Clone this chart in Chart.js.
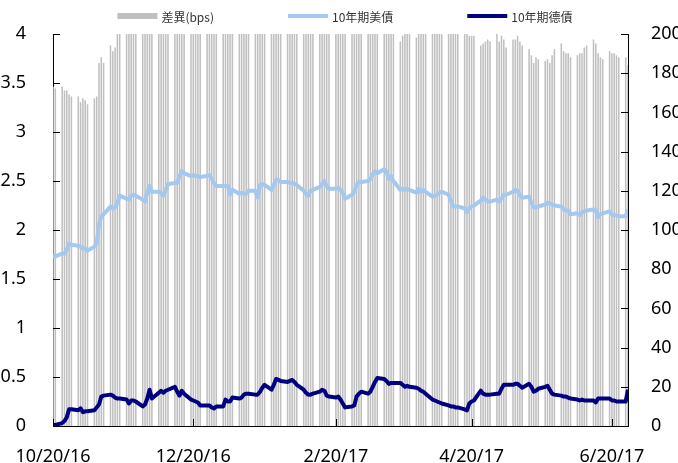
<!DOCTYPE html>
<html>
<head>
<meta charset="utf-8">
<script src="https://cdn.jsdelivr.net/npm/chart.js@4.4.1/dist/chart.umd.min.js"></script>
<style>
  html, body { margin: 0; padding: 0; background: #fff; }
</style>
</head>
<body>
<canvas id="grafica" width="678" height="463"></canvas>
<script>
// rango de fechas (solo días hábiles)
const startDate = '2016-10-20';
const endDate = '2017-06-27';
const xTickLabels = ['10/20/16', '12/20/16', '2/20/17', '4/20/17', '6/20/17'];
const seriesNames = ['差異(bps)', '10年期美債', '10年期德債'];

// 10年期美債 (%), una fila por semana
const usYield = [
    1.74, 1.73,
    1.76, 1.76, 1.80, 1.86, 1.85,
    1.84, 1.83, 1.81, 1.81, 1.79,
    1.83, 1.87, 2.06, 2.14, 2.16,
    2.24, 2.22, 2.23, 2.28, 2.35,
    2.32, 2.31, 2.35, 2.36, 2.35,
    2.31, 2.29, 2.38, 2.45, 2.39,
    2.39, 2.38, 2.35, 2.41, 2.47,
    2.48, 2.48, 2.55, 2.60, 2.58,
    2.55, 2.56, 2.55, 2.55, 2.54,
    2.55, 2.56, 2.52, 2.48, 2.45,
    2.45, 2.45, 2.45, 2.36, 2.41,
    2.37, 2.38, 2.37, 2.37, 2.40,
    2.40, 2.33, 2.46, 2.47, 2.46,
    2.41, 2.46, 2.51, 2.51, 2.49,
    2.49, 2.48, 2.48, 2.47, 2.46,
    2.40, 2.37, 2.35, 2.40, 2.41,
    2.44, 2.47, 2.50, 2.45, 2.42,
    2.42, 2.43, 2.41, 2.38, 2.32,
    2.36, 2.39, 2.46, 2.49, 2.49,
    2.50, 2.52, 2.57, 2.60, 2.58,
    2.62, 2.60, 2.52, 2.55, 2.50,
    2.41, 2.42, 2.41, 2.42, 2.41,
    2.38, 2.42, 2.39, 2.41, 2.39,
    2.34, 2.35, 2.36, 2.38, 2.39,
    2.36, 2.30, 2.24, 2.24, 2.24,
    2.22, 2.18, 2.22, 2.24, 2.25,
    2.30, 2.33, 2.31, 2.29, 2.29,
    2.31, 2.29, 2.32, 2.36, 2.36,
    2.39, 2.41, 2.40, 2.35, 2.33,
    2.34, 2.28, 2.23, 2.23, 2.24,
    2.26, 2.28, 2.27, 2.26, 2.25,
    2.24, 2.21, 2.20, 2.20, 2.16,
    2.17, 2.15, 2.18, 2.19, 2.20,
    2.21, 2.20, 2.13, 2.16, 2.17,
    2.19, 2.16, 2.15, 2.15, 2.14,
    2.14, 2.21
];

// 10年期德債 (%)
const deYield = [
    0.01, 0.01,
    0.03, 0.05, 0.09, 0.17, 0.17,
    0.16, 0.18, 0.14, 0.15, 0.15,
    0.16, 0.19, 0.22, 0.30, 0.31,
    0.32, 0.31, 0.29, 0.28, 0.28,
    0.27, 0.23, 0.26, 0.26, 0.25,
    0.20, 0.22, 0.28, 0.37, 0.28,
    0.34, 0.36, 0.34, 0.36, 0.37,
    0.40, 0.35, 0.31, 0.36, 0.33,
    0.27, 0.26, 0.25, 0.24, 0.21,
    0.21, 0.21, 0.19, 0.18, 0.20,
    0.20, 0.27, 0.25, 0.25, 0.29,
    0.28, 0.29, 0.32, 0.33, 0.33,
    0.32, 0.32, 0.35, 0.39, 0.42,
    0.37, 0.42, 0.48, 0.47, 0.46,
    0.45, 0.46, 0.47, 0.45, 0.42,
    0.37, 0.34, 0.32, 0.32, 0.33,
    0.35, 0.37, 0.36, 0.31, 0.30,
    0.29, 0.30, 0.27, 0.23, 0.19,
    0.20, 0.21, 0.30, 0.33, 0.35,
    0.33, 0.35, 0.40, 0.45, 0.49,
    0.48, 0.46, 0.43, 0.44, 0.44,
    0.44, 0.42, 0.40, 0.41, 0.40,
    0.39, 0.38, 0.36, 0.35, 0.33,
    0.27, 0.26, 0.25, 0.24, 0.23,
    0.21, 0.20, 0.20, 0.19, 0.19,
    0.17, 0.16, 0.23, 0.25, 0.26,
    0.36, 0.33, 0.32, 0.32, 0.32,
    0.33, 0.33, 0.38, 0.42, 0.42,
    0.42, 0.43, 0.43, 0.41, 0.39,
    0.43, 0.40, 0.35, 0.36, 0.38,
    0.40, 0.41, 0.37, 0.33, 0.32,
    0.31, 0.30, 0.30, 0.29, 0.28,
    0.27, 0.26, 0.27, 0.26, 0.26,
    0.26, 0.24, 0.28, 0.28, 0.28,
    0.28, 0.26, 0.26, 0.25, 0.25,
    0.25, 0.37
];

// 差異 (bps), eje derecho
const spread = [
    173, 172,
    173, 171, 171, 169, 168,
    168, 165, 167, 166, 164,
    167, 168, 185, 188, 185,
    194, 191, 193, 200, 207,
    205, 208, 209, 210, 210,
    211, 207, 210, 208, 211,
    205, 202, 201, 205, 210,
    208, 213, 224, 224, 225,
    228, 230, 230, 231, 233,
    234, 235, 233, 230, 225,
    225, 218, 220, 211, 212,
    209, 209, 205, 204, 207,
    208, 201, 211, 208, 204,
    204, 204, 203, 204, 203,
    204, 202, 201, 202, 204,
    203, 203, 203, 208, 208,
    209, 210, 214, 214, 212,
    213, 213, 214, 215, 213,
    216, 218, 216, 216, 214,
    217, 217, 217, 215, 209,
    214, 214, 209, 211, 206,
    196, 199, 200, 201, 201,
    198, 204, 203, 206, 206,
    207, 209, 211, 214, 216,
    215, 210, 204, 205, 205,
    205, 202, 199, 199, 199,
    194, 195, 196, 197, 196,
    200, 196, 199, 197, 193,
    197, 197, 199, 196, 194,
    192, 189, 185, 188, 187,
    186, 187, 185, 189, 192,
    195, 191, 190, 190, 188,
    189, 190, 190, 193, 194,
    197, 195, 190, 188, 187,
    191, 190, 190, 189, 188,
    188, 184
];

const DAY = 86400000;

function toUTC(s) {
    if (s.includes('/')) {
        const [m, d, y] = s.split('/').map(Number);
        return Date.UTC(2000 + y, m - 1, d);
    }
    const [y, m, d] = s.split('-').map(Number);
    return Date.UTC(y, m - 1, d);
}

// días (desde startDate) de cada día hábil
const t0 = toUTC(startDate);
const days = [];
for (let t = t0; t <= toUTC(endDate); t += DAY) {
    const wd = new Date(t).getUTCDay();
    if (wd !== 0 && wd !== 6) days.push((t - t0) / DAY);
}
const xTickDays = xTickLabels.map(s => (toUTC(s) - t0) / DAY);

const pts = arr => arr.map((v, i) => ({ x: days[i], y: v }));

const tickFont = { family: '"Noto Sans", sans-serif', size: 18 };

// marcas de eje hacia adentro
const innerTicks = {
    id: 'innerTicks',
    afterDraw(chart) {
        const { ctx, chartArea: a, scales } = chart;
        ctx.save();
        ctx.strokeStyle = '#000';
        ctx.lineWidth = 1;
        ctx.beginPath();
        scales.y.ticks.forEach(t => {
            const py = Math.round(scales.y.getPixelForValue(t.value)) + 0.5;
            ctx.moveTo(a.left, py);
            ctx.lineTo(a.left + 7, py);
        });
        scales.y1.ticks.forEach(t => {
            const py = Math.round(scales.y1.getPixelForValue(t.value)) + 0.5;
            ctx.moveTo(a.right - 7, py);
            ctx.lineTo(a.right, py);
        });
        scales.x.ticks.forEach(t => {
            const px = Math.round(scales.x.getPixelForValue(t.value)) + 0.5;
            ctx.moveTo(px, a.bottom);
            ctx.lineTo(px, a.bottom - 7);
        });
        ctx.stroke();
        ctx.restore();
    }
};

// leyenda arriba, con mucho espacio entre elementos
const topLegend = {
    id: 'topLegend',
    afterDraw(chart) {
        const ctx = chart.ctx;
        const items = [2, 0, 1].map(i => chart.data.datasets[i]);
        const sym = 40, gap = 4, between = 74, cy = 16;
        ctx.save();
        ctx.font = '12px "Noto Sans CJK TC", sans-serif';
        ctx.textBaseline = 'middle';
        const widths = items.map(d => sym + gap + ctx.measureText(d.label).width);
        const total = widths.reduce((s, w) => s + w, 0) + between * (items.length - 1);
        let x = 345 - total / 2;
        items.forEach((d, i) => {
            if (d.type === 'bar') {
                ctx.fillStyle = d.backgroundColor;
                ctx.fillRect(x, cy - 3, sym, 6);
            } else {
                ctx.strokeStyle = d.borderColor;
                ctx.lineWidth = d.borderWidth;
                ctx.beginPath();
                ctx.moveTo(x, cy);
                ctx.lineTo(x + sym, cy);
                ctx.stroke();
            }
            ctx.fillStyle = '#333';
            ctx.fillText(d.label, x + sym + gap, cy + 1);
            x += widths[i] + between;
        });
        ctx.restore();
    }
};

const ctx = document.getElementById('grafica').getContext('2d');
const chart = new Chart(ctx, {
    type: 'bar',
    data: {
        datasets: [
            {
                type: 'line',
                label: seriesNames[1],
                data: pts(usYield),
                yAxisID: 'y',
                borderColor: '#a4c8ee',
                borderWidth: 4,
                borderJoinStyle: 'round',
                pointRadius: 0,
                tension: 0,
                order: 2
            },
            {
                type: 'line',
                label: seriesNames[2],
                data: pts(deYield),
                yAxisID: 'y',
                borderColor: '#000080',
                borderWidth: 4,
                borderJoinStyle: 'round',
                pointRadius: 0,
                tension: 0,
                order: 1
            },
            {
                type: 'bar',
                label: seriesNames[0],
                data: pts(spread),
                yAxisID: 'y1',
                backgroundColor: '#c0c0c0',
                barThickness: 0.9,
                order: 3
            }
        ]
    },
    options: {
        responsive: false,
        animation: false,
        devicePixelRatio: 1,
        layout: { padding: { top: 34, left: 0, right: 0, bottom: 0 } },
        plugins: {
            legend: { display: false },
            tooltip: { enabled: false }
        },
        scales: {
            x: {
                type: 'linear',
                min: 0,
                max: days[days.length - 1],
                offset: false,
                grid: { display: false },
                border: { color: '#000', width: 1 },
                ticks: {
                    font: tickFont,
                    color: '#000',
                    padding: 12,
                    maxRotation: 0,
                    autoSkip: false,
                    callback: (v, i) => xTickLabels[i]
                },
                afterBuildTicks: s => { s.ticks = xTickDays.map(v => ({ value: v })); },
                afterFit: s => { s.height = 37; }
            },
            y: {
                position: 'left',
                min: 0,
                max: 4,
                grid: { display: false },
                border: { color: '#000', width: 1 },
                ticks: { stepSize: 0.5, font: tickFont, color: '#000', padding: 19, callback: v => String(v) },
                afterFit: s => { s.width = 53; }
            },
            y1: {
                position: 'right',
                min: 0,
                max: 200,
                grid: { display: false },
                border: { color: '#000', width: 1 },
                ticks: { stepSize: 20, font: tickFont, color: '#000', padding: 15 },
                afterFit: s => { s.width = 50; }
            }
        }
    },
    plugins: [innerTicks, topLegend]
});
</script>
</body>
</html>
